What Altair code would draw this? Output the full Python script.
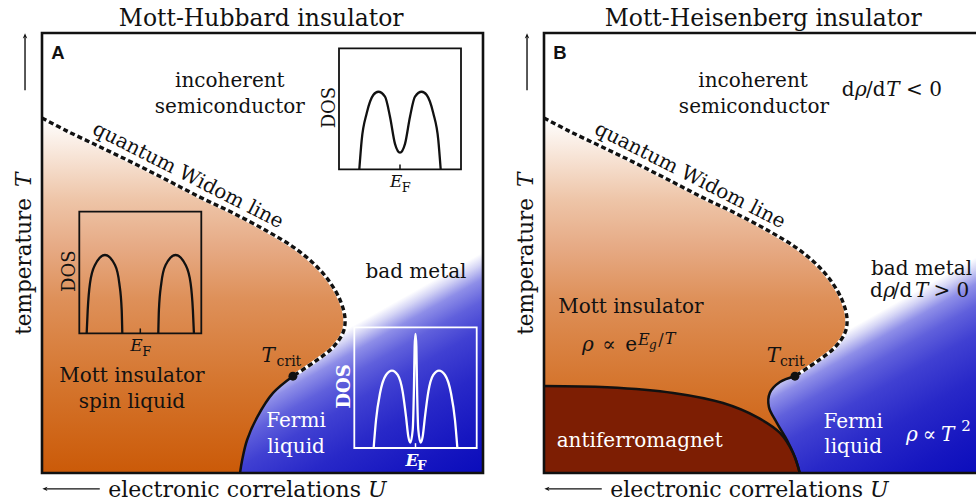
import altair as alt
import pandas as pd

# ---------------------------------------------------------------
# Phase boundaries, in panel units: U (0 = left edge, 1 = right edge)
# and T (0 = bottom, 1 = top)
# ---------------------------------------------------------------
widom_u = [0.000, 0.057, 0.132, 0.206, 0.283, 0.358, 0.433, 0.510, 0.569,
           0.615, 0.649, 0.676, 0.687, 0.683, 0.660, 0.621, 0.569]
widom_t = [0.807, 0.777, 0.741, 0.705, 0.666, 0.627, 0.591, 0.550, 0.514,
           0.477, 0.439, 0.393, 0.352, 0.320, 0.286, 0.255, 0.220]

# first-order Mott transition line below the critical point
hubbard_u = [0.569, 0.524, 0.488, 0.465, 0.454, 0.449]
hubbard_t = [0.220, 0.182, 0.127, 0.075, 0.030, 0.000]
heis_u = [0.569, 0.535, 0.512, 0.510, 0.528, 0.551, 0.569, 0.580]
heis_t = [0.220, 0.207, 0.182, 0.150, 0.114, 0.075, 0.036, 0.000]

# antiferromagnetic dome
afm_u = [0.000, 0.143, 0.293, 0.406, 0.483, 0.535, 0.565, 0.580]
afm_t = [0.198, 0.195, 0.182, 0.159, 0.127, 0.091, 0.045, 0.000]

# critical end point
tcrit_u = [0.569]
tcrit_t = [0.220]

# ---------------------------------------------------------------
# Density-of-states sketches: energy relative to E_F, DOS
# ---------------------------------------------------------------
semi_e = [-0.667, -0.628, -0.546, -0.438, -0.356, -0.246, -0.164, -0.082, 0.0,
          0.082, 0.164, 0.246, 0.356, 0.438, 0.546, 0.628, 0.667]
semi_d = [0.0, 0.242, 0.463, 0.614, 0.641, 0.600, 0.435, 0.210, 0.137,
          0.210, 0.435, 0.600, 0.641, 0.614, 0.463, 0.242, 0.0]

mott_e = [-0.879, -0.862, -0.825, -0.743, -0.579, -0.415, -0.344, -0.305, -0.295,
          0.295, 0.305, 0.344, 0.415, 0.579, 0.743, 0.825, 0.862, 0.879]
mott_d = [0.0, 0.192, 0.411, 0.562, 0.644, 0.562, 0.411, 0.192, 0.0,
          0.0, 0.192, 0.411, 0.562, 0.644, 0.562, 0.411, 0.192, 0.0]
mott_band = ["lower"] * 9 + ["upper"] * 9

metal_e = [-0.684, -0.645, -0.580, -0.482, -0.384, -0.291, -0.210, -0.155, -0.117,
           -0.084, -0.046, -0.025, -0.014, 0.0, 0.014, 0.025, 0.046, 0.084,
           0.117, 0.155, 0.210, 0.291, 0.384, 0.482, 0.580, 0.645, 0.684]
metal_d = [0.0, 0.232, 0.453, 0.605, 0.641, 0.605, 0.467, 0.260, 0.094,
           0.044, 0.149, 0.508, 0.840, 0.945, 0.840, 0.508, 0.149, 0.044,
           0.094, 0.260, 0.467, 0.605, 0.641, 0.605, 0.453, 0.232, 0.0]

# ---------------------------------------------------------------
# Layout and style
# ---------------------------------------------------------------
A_X = [42, 483]
B_X = [544, 985]
P_Y = [473, 33]

SERIF = "DejaVu Serif"
SANS = "Liberation Sans"
INK = "#111111"
AFM = "#7d1e03"

ORANGE = alt.Gradient(
    gradient="linear", x1=0, y1=0, x2=0, y2=1,
    stops=[alt.GradientStop(color="#ffffff", offset=0),
           alt.GradientStop(color="#eec5a8", offset=0.23),
           alt.GradientStop(color="#e6a983", offset=0.37),
           alt.GradientStop(color="#de9059", offset=0.51),
           alt.GradientStop(color="#d5762f", offset=0.74),
           alt.GradientStop(color="#cb5a08", offset=1)])

# metallic side: fades from white (upper left) to deep blue (lower right)
BLUE = alt.Gradient(
    gradient="linear", x1=0.676, y1=0.682, x2=0.891, y2=1.061,
    stops=[alt.GradientStop(color="#ffffff", offset=0),
           alt.GradientStop(color="#d4d4f5", offset=0.05),
           alt.GradientStop(color="#8e8ee8", offset=0.12),
           alt.GradientStop(color="#6060dc", offset=0.22),
           alt.GradientStop(color="#4040d2", offset=0.35),
           alt.GradientStop(color="#2828c8", offset=0.55),
           alt.GradientStop(color="#1616c0", offset=0.8),
           alt.GradientStop(color="#0a0cbb", offset=1)])


def sc(rng, dom=(0, 1)):
    return alt.Scale(domain=list(dom), range=list(rng), nice=False, zero=False)


def xy(chart, xr, yr, xdom=(0, 1), ydom=(0, 1), xf="u", yf="t", **extra):
    return chart.encode(
        x=alt.X(f"{xf}:Q", scale=sc(xr, xdom), axis=None),
        y=alt.Y(f"{yf}:Q", scale=sc(yr, ydom), axis=None),
        **extra)


def curve(u, t):
    return pd.DataFrame({"u": u, "t": t, "i": list(range(len(u)))})


def texts(labels, us, ts, xr, yr, xdom=(0, 1), ydom=(0, 1), **style):
    style.setdefault("baseline", "alphabetic")
    style.setdefault("font", SERIF)
    df = pd.DataFrame({"u": us, "t": ts, "label": labels})
    return xy(alt.Chart(df).mark_text(**style), xr, yr, xdom, ydom, text="label:N")


def panel(xr, line_u, line_t, with_afm):
    box = pd.DataFrame({"u": [0], "u2": [1], "t": [0], "t2": [1]})
    layers = []
    layers.append(alt.Chart(box).mark_rect(fill=BLUE, clip=True).encode(
        x=alt.X("u:Q", scale=sc(xr), axis=None), x2="u2:Q",
        y=alt.Y("t:Q", scale=sc(P_Y), axis=None), y2="t2:Q"))
    insulator = curve(widom_u + line_u[1:], widom_t + line_t[1:])
    layers.append(xy(alt.Chart(insulator).mark_area(
        orient="horizontal", interpolate="catmull-rom", fill=ORANGE, clip=True),
        xr, P_Y, x2=alt.datum(0)))
    if with_afm:
        layers.append(xy(alt.Chart(curve(afm_u, afm_t)).mark_area(
            orient="vertical", interpolate="catmull-rom", color=AFM, clip=True),
            xr, P_Y, y2=alt.datum(0)))
    widom = curve(widom_u, widom_t)
    layers.append(xy(alt.Chart(widom).mark_line(
        color="white", strokeWidth=3.6, interpolate="catmull-rom"),
        xr, P_Y, order="i:Q"))
    layers.append(xy(alt.Chart(widom).mark_line(
        color=INK, strokeWidth=3.4, strokeDash=[5, 3], interpolate="catmull-rom"),
        xr, P_Y, order="i:Q"))
    layers.append(xy(alt.Chart(curve(line_u, line_t)).mark_line(
        color=INK, strokeWidth=2.5, interpolate="catmull-rom"),
        xr, P_Y, order="i:Q"))
    if with_afm:
        layers.append(xy(alt.Chart(curve(afm_u, afm_t)).mark_line(
            color=INK, strokeWidth=2.5, interpolate="catmull-rom"),
            xr, P_Y, order="i:Q"))
    layers.append(xy(alt.Chart(curve(tcrit_u, tcrit_t)).mark_circle(
        color=INK, opacity=1, size=80), xr, P_Y))
    layers.append(alt.Chart(box).mark_rect(
        filled=False, stroke=INK, strokeWidth=2.6, clip=True).encode(
        x=alt.X("u:Q", scale=sc(xr), axis=None), x2="u2:Q",
        y=alt.Y("t:Q", scale=sc(P_Y), axis=None), y2="t2:Q"))
    return layers


def inset(e, d, xr, yr, color, weight, band=None):
    box = pd.DataFrame({"e": [-1], "e2": [1], "d": [0], "d2": [1]})
    X = lambda f: alt.X(f, scale=sc(xr, (-1, 1)), axis=None)
    Y = lambda f: alt.Y(f, scale=sc(yr), axis=None)
    layers = [
        alt.Chart(box).mark_rect(filled=False, stroke=color, strokeWidth=1.8).encode(
            x=X("e:Q"), x2="e2:Q", y=Y("d:Q"), y2="d2:Q"),
        alt.Chart(pd.DataFrame({"e": [0], "d": [0], "d2": [0.04]})).mark_rule(
            color=color, strokeWidth=1.5).encode(x=X("e:Q"), y=Y("d:Q"), y2="d2:Q"),
    ]
    df = pd.DataFrame({"e": e, "d": d, "band": band if band else ["all"] * len(e)})
    layers.append(alt.Chart(df).mark_line(
        color=color, strokeWidth=2.3, interpolate="monotone").encode(
        x=X("e:Q"), y=Y("d:Q"), detail="band:N"))
    layers.append(texts(["DOS"], [-1.07], [0.51], xr, yr, (-1, 1), (0, 1),
                        fontSize=18, angle=270, align="center",
                        color=color, fontWeight=weight))
    layers.append(texts(["E"], [-0.165], [-0.145], xr, yr, (-1, 1), (0, 1),
                        fontSize=17, fontStyle="italic", align="left",
                        color=color, fontWeight=weight))
    layers.append(texts(["F"], [0.03], [-0.185], xr, yr, (-1, 1), (0, 1),
                        fontSize=13, align="left", color=color, fontWeight=weight))
    return layers


layers = []
layers += panel(A_X, hubbard_u, hubbard_t, with_afm=False)
layers += panel(B_X, heis_u, heis_t, with_afm=True)

# DOS sketches in panel A
layers += inset(semi_e, semi_d, [339, 461], [169.3, 48.3], INK, "normal")
layers += inset(mott_e, mott_d, [79.3, 201.3], [333.3, 211.7], INK, "normal", mott_band)
layers += inset(metal_e, metal_d, [354.3, 476.7], [448, 327.3], "white", "bold")

body = dict(fontSize=20)

for xr, title, tag in [(A_X, "Mott-Hubbard insulator", "A"),
                       (B_X, "Mott-Heisenberg insulator", "B")]:
    layers.append(texts([title], [0.497], [1.015], xr, P_Y,
                        fontSize=23.5, align="center", color=INK))
    layers.append(texts([tag], [0.021], [0.941], xr, P_Y,
                        font=SANS, fontSize=18.5, fontWeight="bold", align="left", color=INK))
    layers.append(texts(["quantum Widom line"], [0.325], [0.664], xr, P_Y,
                        angle=27, align="center", color=INK, **body))
    # axis captions with arrows
    layers.append(texts(["temperature"], [-0.025], [0.314], xr, P_Y,
                        fontSize=21.5, angle=270, align="left", color=INK))
    layers.append(texts(["T"], [-0.025], [0.650], xr, P_Y, fontSize=21.5,
                        fontStyle="italic", angle=270, align="left", color=INK))
    layers.append(texts(["electronic correlations"], [0.150], [-0.0545], xr, P_Y,
                        fontSize=22, align="left", color=INK))
    layers.append(texts(["U"], [0.739], [-0.0545], xr, P_Y, fontSize=22,
                        fontStyle="italic", align="left", color=INK))
    layers.append(xy(alt.Chart(pd.DataFrame({"u": [-0.0385], "t": [0.870], "t2": [0.99]}))
                     .mark_rule(color=INK, strokeWidth=1.4), xr, P_Y, y2="t2:Q"))
    layers.append(xy(alt.Chart(pd.DataFrame({"u": [-0.0385], "t": [0.992]}))
                     .mark_point(shape="M0,-1L0.7,0.6L0,0.25L-0.7,0.6Z", filled=True,
                                 color=INK, opacity=1, size=40), xr, P_Y))
    layers.append(xy(alt.Chart(pd.DataFrame({"u": [0.131], "u2": [0.01], "t": [-0.036]}))
                     .mark_rule(color=INK, strokeWidth=1.4), xr, P_Y, x2="u2:Q"))
    layers.append(xy(alt.Chart(pd.DataFrame({"u": [0.008], "t": [-0.036]}))
                     .mark_point(shape="M-1,0L0.6,-0.7L0.25,0L0.6,0.7Z", filled=True,
                                 color=INK, opacity=1, size=40), xr, P_Y))

# Panel A labels
layers.append(texts(["incoherent", "semiconductor", "bad metal", "Mott insulator", "spin liquid"],
                    [0.426, 0.426, 0.848, 0.204, 0.204],
                    [0.877, 0.818, 0.443, 0.207, 0.148], A_X, P_Y,
                    align="center", color=INK, **body))
layers.append(texts(["Fermi", "liquid"], [0.576, 0.576], [0.105, 0.045], A_X, P_Y,
                    align="center", color="white", **body))
layers.append(texts(["T"], [0.498], [0.252], A_X, P_Y, fontStyle="italic",
                    align="left", color=INK, **body))
layers.append(texts(["crit"], [0.532], [0.243], A_X, P_Y, fontSize=14,
                    align="left", color=INK))

# Panel B labels
layers.append(texts(["incoherent", "semiconductor", "bad metal", "Mott insulator"],
                    [0.474, 0.476, 0.856, 0.197],
                    [0.877, 0.818, 0.449, 0.364], B_X, P_Y,
                    align="center", color=INK, **body))
layers.append(texts(["antiferromagnet", "Fermi", "liquid"],
                    [0.217, 0.701, 0.701], [0.060, 0.102, 0.045], B_X, P_Y,
                    align="center", color="white", **body))
layers.append(texts(["T"], [0.505], [0.252], B_X, P_Y, fontStyle="italic",
                    align="left", color=INK, **body))
layers.append(texts(["crit"], [0.535], [0.243], B_X, P_Y, fontSize=14,
                    align="left", color=INK))
# d rho / dT < 0  and  d rho / dT > 0
layers.append(texts(["d", "/d", "< 0", "d", "/d", "> 0"],
                    [0.675, 0.730, 0.821, 0.739, 0.791, 0.883],
                    [0.857, 0.857, 0.857, 0.401, 0.401, 0.401], B_X, P_Y,
                    align="left", color=INK, **body))
layers.append(texts(["ρ", "T", "ρ", "T"],
                    [0.705, 0.776, 0.769, 0.841],
                    [0.857, 0.857, 0.401, 0.401], B_X, P_Y,
                    align="left", fontStyle="italic", color=INK, **body))
# rho ~ exp(E_g / T)
layers.append(texts(["ρ"], [0.086], [0.277], B_X, P_Y, fontStyle="italic",
                    align="left", color=INK, **body))
layers.append(texts(["∝", "e"], [0.132, 0.184], [0.277, 0.277], B_X, P_Y,
                    align="left", color=INK, **body))
layers.append(texts(["E", "T"], [0.213, 0.274], [0.291, 0.293], B_X, P_Y,
                    fontSize=16, fontStyle="italic", align="left", color=INK))
layers.append(texts(["/"], [0.259], [0.291], B_X, P_Y, fontSize=16,
                    align="left", color=INK))
layers.append(texts(["g"], [0.238], [0.282], B_X, P_Y, fontSize=12,
                    fontStyle="italic", align="left", color=INK))
# rho ~ T^2
layers.append(texts(["ρ", "T"], [0.821, 0.900], [0.073, 0.073], B_X, P_Y,
                    fontStyle="italic", align="left", color="white", **body))
layers.append(texts(["∝"], [0.859], [0.073], B_X, P_Y,
                    align="left", color="white", **body))
layers.append(texts(["2"], [0.946], [0.096], B_X, P_Y, fontSize=15,
                    align="left", color="white"))

chart = (
    alt.layer(*layers)
    .resolve_scale(x="independent", y="independent")
    .properties(width=976, height=504, padding=0,
                autosize=alt.AutoSizeParams(type="none"))
    .configure_view(stroke=None)
)

chart.save("out.html", embed_options={"renderer": "svg", "actions": False})
